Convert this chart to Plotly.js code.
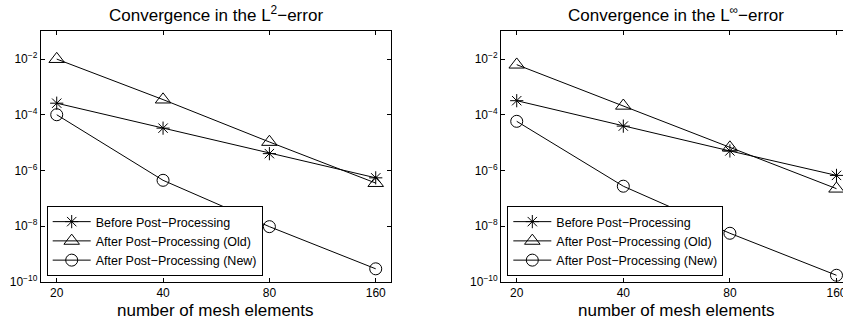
<!DOCTYPE html>
<html>
<head>
<meta charset="utf-8">
<script src="https://cdn.plot.ly/plotly-3.0.1.min.js"></script>
<style>html,body{margin:0;padding:0;background:#fff;}#chart{width:843px;height:324px;}</style>
</head>
<body>
<div id="chart"></div>
<script>
// ---- data ----
const meshElements = [20, 40, 80, 160];
const seriesNames = ["Before Post\u2212Processing", "After Post\u2212Processing (Old)", "After Post\u2212Processing (New)"];
const l2Before = [2.6e-4, 3.3e-5, 4.0e-6, 5.4e-7];
const l2Old    = [1.0e-2, 3.5e-4, 1.05e-5, 3.5e-7];
const l2New    = [1.0e-4, 4.4e-7, 9.5e-9, 2.9e-10];
const linfBefore = [3.2e-4, 3.9e-5, 5.0e-6, 6.6e-7];
const linfOld    = [6.3e-3, 2.1e-4, 6.6e-6, 2.2e-7];
const linfNew    = [5.8e-5, 2.7e-7, 5.5e-9, 1.7e-10];
const xTickVals = [20, 40, 80, 160];
const xTickText = ["20", "40", "80", "160"];
const yTickVals = [1e-10, 1e-8, 1e-6, 1e-4, 1e-2];
const yTickText = ["10<sup>\u221210</sup>", "10<sup>\u22128</sup>", "10<sup>\u22126</sup>", "10<sup>\u22124</sup>", "10<sup>\u22122</sup>"];
const titles = ["Convergence in the L<sup>2</sup>\u2212error", "Convergence in the L<sup>\u221e</sup>\u2212error"];
const xTitle = "number of mesh elements";

// ---- styles ----
const FONT = "Liberation Sans, Arial, sans-serif";
const symbols = ["asterisk-open", "triangle-up-open", "circle-open"];
const sizes = [11, 13.5, 12];

function mk(y, i, xa, ya, lg) {
  return {
    x: meshElements, y: y, type: "scatter", mode: "lines+markers",
    name: seriesNames[i], xaxis: xa, yaxis: ya, legend: lg,
    line: {color: "#000", width: 1},
    marker: {symbol: symbols[i], size: sizes[i], color: "#000", line: {color: "#000", width: 1}}
  };
}

const data = [
  mk(l2Before, 0, "x", "y", "legend"),
  mk(l2Old, 1, "x", "y", "legend"),
  mk(l2New, 2, "x", "y", "legend"),
  mk(linfBefore, 0, "x2", "y2", "legend2"),
  mk(linfOld, 1, "x2", "y2", "legend2"),
  mk(linfNew, 2, "x2", "y2", "legend2")
];

const axBase = {
  type: "log", showgrid: false, zeroline: false,
  showline: true, linecolor: "#000", linewidth: 1,
  ticks: "inside", ticklen: 4, tickcolor: "#000",
  tickfont: {family: FONT, size: 12, color: "#000"},
  ticklabeloverflow: "allow"
};

function xax(domain, range, mirror) {
  return Object.assign({}, axBase, {
    domain: domain, range: range, mirror: mirror,
    tickvals: xTickVals, ticktext: xTickText
  });
}
function yax(domain, mirror, anchor) {
  return Object.assign({}, axBase, {
    domain: domain, range: [-10, -1], mirror: mirror, anchor: anchor,
    tickvals: yTickVals, ticktext: yTickText
  });
}

const yDom = [0.1306, 0.9035];
const legBase = {
  bgcolor: "#fff", bordercolor: "#000", borderwidth: 1,
  font: {family: FONT, size: 12.5, color: "#000"},
  xanchor: "left", yanchor: "bottom", tracegroupgap: 0, itemwidth: 38
};

const layout = {
  width: 843, height: 324,
  margin: {l: 0, r: 0, t: 0, b: 0},
  paper_bgcolor: "#fff", plot_bgcolor: "#fff",
  showlegend: true,
  xaxis: xax([0.0483, 0.4635], [1.2557, 2.2466], "ticks"),
  yaxis: yax(yDom, "ticks", "x"),
  xaxis2: Object.assign(xax([0.5943, 1], [1.2566, 2.2225], "ticks"), {anchor: "y2"}),
  yaxis2: yax(yDom, false, "x2"),
  legend: Object.assign({}, legBase, {x: 0.0554, y: (324 - 276) / 324}),
  legend2: Object.assign({}, legBase, {x: 0.6018, y: (324 - 276) / 324}),
  annotations: [
    {text: titles[0], xref: "paper", yref: "paper", x: 215.7 / 843, y: (324 - 14.5) / 324, xanchor: "center", yanchor: "middle", showarrow: false, font: {family: FONT, size: 17, color: "#000"}},
    {text: titles[1], xref: "paper", yref: "paper", x: 676 / 843, y: (324 - 14.5) / 324, xanchor: "center", yanchor: "middle", showarrow: false, font: {family: FONT, size: 17, color: "#000"}},
    {text: xTitle, xref: "paper", yref: "paper", x: 215.7 / 843, y: (324 - 310.5) / 324, xanchor: "center", yanchor: "middle", showarrow: false, font: {family: FONT, size: 17, color: "#000"}},
    {text: xTitle, xref: "paper", yref: "paper", x: 676 / 843, y: (324 - 310.5) / 324, xanchor: "center", yanchor: "middle", showarrow: false, font: {family: FONT, size: 17, color: "#000"}}
  ]
};

Plotly.newPlot("chart", data, layout, {staticPlot: true, displayModeBar: false});
</script>
</body>
</html>
